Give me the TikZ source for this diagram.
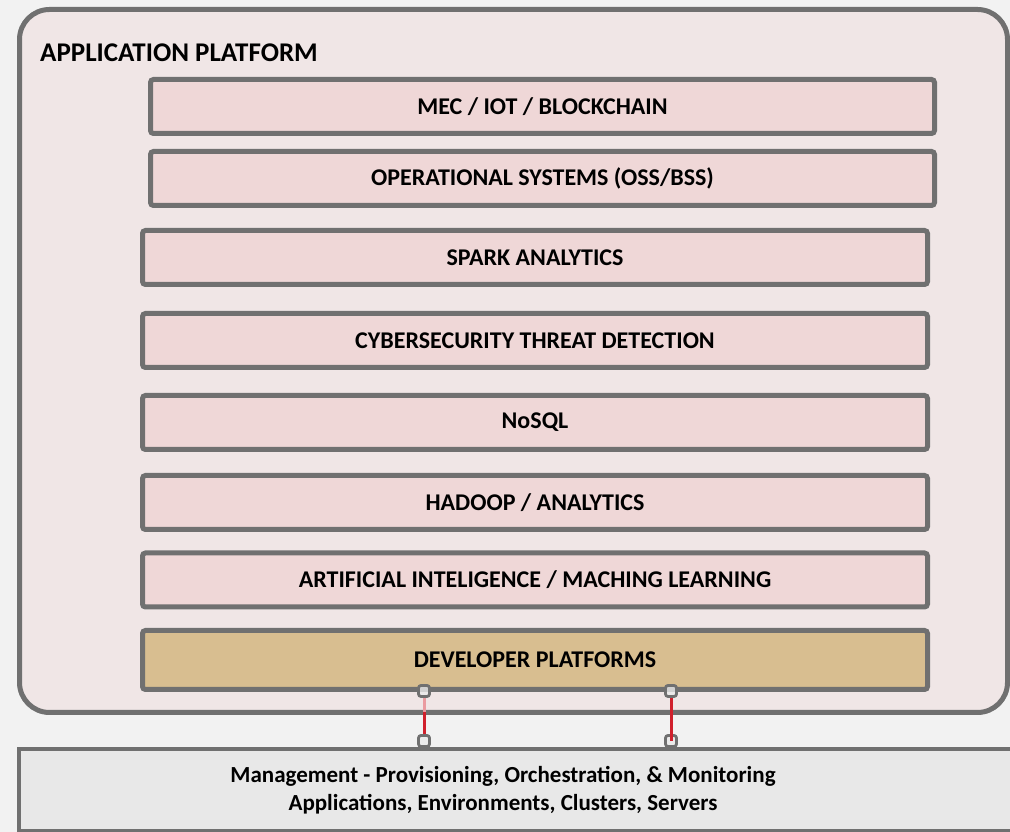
\documentclass[tikz,border=0pt]{standalone}
\usepackage{fontspec}
\setmainfont{Carlito}
\usetikzlibrary{positioning}
\definecolor{PageGrey}{HTML}{F2F2F2}
\definecolor{PlatPink}{HTML}{F0E6E6}
\definecolor{LayerPink}{HTML}{EFD7D7}
\definecolor{DevTan}{HTML}{D8BE90}
\definecolor{EdgeGrey}{HTML}{707070}
\definecolor{MgmtGrey}{HTML}{E8E8E8}
\definecolor{LinkRed}{HTML}{D0202C}

\begin{document}
\begin{tikzpicture}[x=1pt, y=1pt,
    layer/.style={draw=EdgeGrey, line width=5pt, fill=LayerPink, rounded corners=3pt,
      minimum width=785pt, minimum height=54pt, inner sep=0pt,
      font=\bfseries\fontsize{24}{28}\selectfont},
    port/.style={draw=EdgeGrey, line width=2.8pt, fill=white!85!EdgeGrey, fill opacity=0.8,
      rounded corners=2.5pt, minimum size=11pt, inner sep=0pt},
    link/.style={LinkRed, line width=3pt}]
  \useasboundingbox (0,0) rectangle (1010,832);
  \fill[PageGrey] (0,0) rectangle (1010,832);
  % application platform frame
  \draw[EdgeGrey, fill=PlatPink, line width=5pt, rounded corners=30pt] (19.5,119.5) rectangle (1007.5,822.5);
  \coordinate (appbottom) at (0,120);
  \node[anchor=base west, inner sep=0pt, font=\bfseries\fontsize{27}{32}\selectfont] (apptitle) at (40,770) {APPLICATION PLATFORM};
  % layers
  \node[layer, minimum width=784pt] (mec) at (542.5,725.5) {MEC / IOT / BLOCKCHAIN};
  \node[layer, minimum width=784pt] (oss) at (542.5,653.5) {OPERATIONAL SYSTEMS (OSS/BSS)};
  \node[layer] (spark) at (535,574.5) {SPARK ANALYTICS};
  \node[layer] (cyber) at (535,491.5) {CYBERSECURITY THREAT DETECTION};
  \node[layer] (nosql) at (535,409.5) {NoSQL};
  \node[layer] (hadoop) at (535,329.5) {HADOOP / ANALYTICS};
  \node[layer] (ai) at (535,252) {ARTIFICIAL INTELIGENCE / MACHING LEARNING};
  \node[layer, fill=DevTan, minimum height=59pt] (dev) at (535,172) {DEVELOPER PLATFORMS};
  % management bar
  \node[draw=EdgeGrey, fill=MgmtGrey, line width=4pt, minimum width=1011pt, minimum height=82pt,
    inner sep=0pt] (mgmt) at (524.5,42) {};
  \node[align=center, inner sep=0pt, font=\bfseries\fontsize{23}{28}\selectfont] (mgmttext) at (503,42)
    {Management - Provisioning, Orchestration, \& Monitoring\\Applications, Environments, Clusters, Servers};
  % ports and links
  \node[port] (devl) at (424,141) {};
  \node[port] (devr) at (671,141) {};
  \node[port] (mgl) at (424,91) {};
  \node[port] (mgr) at (671,91) {};
  \draw[link] (devl.south) -- (mgl.north);
  \draw[link, LinkRed!45] (devl.south) -- (devl.south |- appbottom);
  \draw[link] (devr.south) -- (mgr.center);
\end{tikzpicture}
\end{document}
